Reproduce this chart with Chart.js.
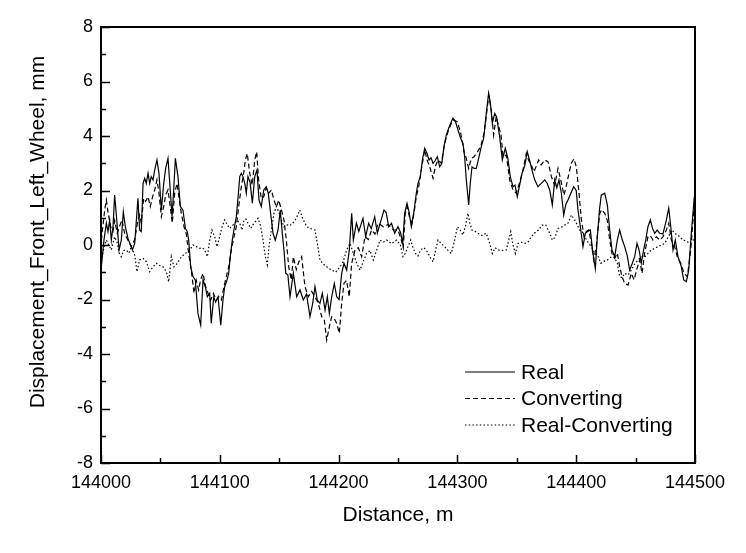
<!DOCTYPE html>
<html><head><meta charset="utf-8">
<script src="https://cdn.jsdelivr.net/npm/chart.js@4/dist/chart.umd.min.js"></script>
<style>html,body{margin:0;padding:0;background:#fff;}#wrap{width:746px;height:553px;}</style>
</head><body><div id="wrap"><canvas id="c" width="746" height="553"></canvas></div>
<script>
// ---- data (distance in m, displacement in mm) ----
const realDistance = [144000.3,144002.5,144004.5,144005.9,144007.3,144008.7,144010.1,144011.5,144013.5,144015.2,144017.1,144018.8,144020.5,144022.7,144026.4,144028.4,144029.8,144031.1,144032.5,144033.9,144035.4,144036.8,144038.1,144039.6,144041.0,144042.3,144043.8,144045.2,144047.1,144048.8,144050.8,144052.8,144054.4,144056.4,144058.3,144059.8,144061.2,144062.6,144064.8,144066.8,144069.0,144071.0,144072.6,144073.8,144075.5,144077.4,144079.4,144081.6,144083.9,144085.9,144087.8,144089.5,144091.5,144092.8,144094.9,144096.5,144098.5,144100.8,144102.7,144104.1,144106.1,144107.5,144108.8,144110.5,144111.9,144113.9,144115.3,144116.8,144118.1,144119.5,144121.0,144122.3,144123.7,144125.5,144127.4,144129.4,144131.3,144133.0,144134.9,144137.0,144139.1,144140.8,144142.8,144144.8,144146.7,144149.0,144150.9,144152.6,144154.0,144155.5,144157.3,144159.1,144161.9,144164.7,144167.5,144170.3,144173.0,144175.9,144178.2,144180.1,144182.1,144184.3,144186.3,144188.6,144190.5,144192.2,144194.2,144196.4,144198.4,144200.4,144202.6,144204.5,144206.8,144209.0,144211.0,144212.4,144215.0,144217.0,144220.5,144222.8,144225.3,144227.5,144230.4,144232.6,144235.0,144238.2,144240.0,144242.2,144244.5,144247.2,144250.0,144252.3,144254.0,144255.6,144257.6,144259.4,144261.2,144263.3,144265.4,144266.8,144268.8,144270.5,144272.5,144274.4,144276.1,144277.8,144279.5,144281.3,144283.1,144285.1,144286.9,144288.7,144290.7,144292.8,144294.9,144296.3,144298.4,144300.5,144302.8,144304.7,144306.1,144307.5,144309.5,144310.9,144312.3,144314.0,144315.9,144318.0,144320.1,144322.1,144324.3,144326.3,144327.8,144329.4,144331.4,144333.0,144335.6,144337.8,144340.3,144342.4,144344.5,144346.8,144348.5,144350.4,144352.4,144354.4,144356.6,144358.8,144360.8,144362.8,144365.0,144367.8,144370.6,144373.5,144375.6,144377.7,144379.9,144381.9,144383.7,144385.5,144387.5,144389.5,144391.3,144393.1,144395.5,144397.9,144400.0,144401.5,144403.5,144405.7,144407.7,144409.8,144411.9,144414.1,144416.1,144417.8,144419.6,144421.1,144424.0,144426.2,144428.2,144430.1,144432.4,144434.6,144436.6,144438.7,144440.8,144443.0,144445.0,144447.0,144449.2,144451.2,144453.0,144454.8,144456.7,144458.5,144460.4,144462.4,144464.3,144466.1,144468.2,144470.3,144473.0,144475.9,144477.9,144479.6,144481.5,144483.4,144485.7,144488.5,144490.5,144492.7,144494.7,144496.9,144499.2,144500.0];
const realValues = [-0.80,0.18,0.80,0.49,0.92,0.18,0.67,1.83,0.80,-0.18,0.18,1.22,0.67,0.24,-0.18,0.06,0.92,1.71,0.55,0.49,2.26,2.45,2.26,2.63,2.26,2.51,2.39,2.75,3.12,2.63,1.28,2.26,2.81,3.18,2.02,1.04,2.02,3.18,2.51,1.41,1.28,0.61,0.49,0.18,-0.80,-1.16,-1.28,-2.51,-2.94,-1.28,-1.53,-1.90,-1.77,-2.87,-1.90,-2.10,-1.90,-2.94,-2.02,-1.53,-1.28,-1.04,-0.43,0.18,0.55,1.04,1.71,2.51,2.63,2.51,2.26,1.90,2.51,2.30,1.53,2.51,2.75,1.65,1.41,2.02,2.14,1.90,1.16,0.43,0.18,0.55,1.28,0.43,-0.18,-1.04,-1.10,-1.90,-1.04,-1.90,-1.65,-2.02,-1.80,-2.63,-2.14,-1.53,-2.02,-2.14,-1.77,-2.39,-1.90,-2.51,-1.90,-1.41,-1.90,-2.00,-1.04,-0.67,-0.92,-0.18,1.16,0.18,0.80,0.50,0.98,0.31,0.80,0.60,1.04,0.43,0.80,1.28,1.20,0.67,0.80,0.43,0.67,0.43,0.06,1.16,1.53,1.20,0.67,1.20,1.90,2.26,2.51,3.12,3.55,3.36,3.12,3.20,3.00,3.10,3.24,2.87,3.00,3.61,4.04,4.30,4.52,4.65,4.52,4.22,3.91,3.73,3.24,2.39,1.47,2.30,2.87,2.81,2.81,3.20,3.61,3.91,4.83,5.57,5.20,4.47,4.83,4.70,3.97,3.12,3.55,3.20,2.51,2.14,2.20,1.77,2.20,2.63,2.90,3.42,3.10,2.75,2.40,2.14,2.26,2.39,2.26,2.02,1.47,2.39,2.10,2.39,1.90,1.10,1.50,1.65,1.90,2.14,2.00,1.28,0.67,-0.06,0.43,0.50,0.55,-0.31,-0.86,0.31,1.30,1.83,1.90,1.47,0.55,-0.18,-0.43,0.18,0.55,0.20,-0.06,-0.40,-0.92,-0.70,-0.43,0.06,-0.20,-0.67,-0.20,0.18,0.67,0.92,0.60,0.43,0.55,0.43,0.40,0.92,1.35,0.67,-0.18,0.18,-0.43,-0.80,-1.28,-1.35,-0.92,0.43,1.65,1.50];

const convDistance = [144000.3,144003.1,144004.5,144005.9,144008.1,144010.1,144011.5,144013.7,144015.7,144017.7,144020.0,144022.7,144025.5,144028.4,144030.6,144032.5,144033.9,144035.9,144037.6,144039.6,144041.5,144043.3,144045.2,144047.1,144048.8,144050.8,144052.8,144054.4,144056.4,144058.3,144060.0,144062.0,144064.0,144065.8,144067.6,144069.9,144071.8,144073.8,144076.0,144078.3,144080.2,144082.2,144083.8,144085.9,144087.9,144090.1,144092.3,144094.7,144097.1,144099.2,144101.3,144103.5,144105.5,144107.5,144109.7,144112.0,144113.9,144115.9,144118.1,144120.1,144121.5,144123.1,144125.2,144127.3,144129.4,144131.0,144132.7,144134.9,144137.0,144139.1,144141.2,144143.4,144145.6,144147.6,144149.6,144151.8,144154.0,144156.0,144158.0,144160.2,144161.9,144164.4,144166.7,144168.9,144171.7,144174.5,144177.3,144180.1,144182.9,144185.8,144188.0,144190.0,144192.2,144194.2,144196.3,144198.4,144200.6,144202.6,144204.5,144206.7,144209.0,144211.0,144213.8,144216.6,144219.4,144222.2,144225.0,144227.8,144230.6,144233.4,144237.6,144241.8,144246.1,144250.0,144252.8,144254.4,144256.1,144257.8,144259.8,144261.8,144263.6,144265.4,144267.4,144269.6,144272.5,144274.6,144276.7,144279.5,144281.6,144283.7,144286.5,144289.3,144292.1,144294.9,144297.1,144300.0,144302.8,144305.6,144307.5,144309.5,144311.7,144314.0,144316.8,144319.6,144322.4,144324.3,144326.3,144328.5,144330.5,144332.7,144335.6,144336.6,144338.4,144341.2,144344.0,144346.8,144349.6,144352.4,144355.2,144358.0,144360.0,144362.2,144364.5,144366.4,144368.4,144370.6,144373.5,144376.3,144379.1,144381.9,144384.7,144387.0,144389.7,144391.8,144393.9,144395.9,144398.1,144400.1,144402.1,144404.4,144406.6,144408.5,144410.5,144412.7,144414.7,144416.9,144418.4,144419.8,144421.4,144424.0,144426.2,144428.2,144430.1,144432.4,144434.6,144436.6,144438.6,144440.8,144443.6,144446.4,144448.7,144451.0,144453.4,144455.4,144457.6,144460.4,144462.4,144464.6,144467.5,144470.3,144473.0,144475.9,144477.9,144480.1,144482.5,144485.1,144488.0,144490.8,144493.6,144496.4,144499.2,144500.0];
const convValues = [0.18,1.28,1.65,1.20,0.67,0.50,0.90,0.43,0.70,0.92,0.40,0.18,-0.06,0.20,0.80,1.10,0.80,1.71,1.60,1.77,1.41,1.75,2.02,2.39,1.90,1.04,1.41,1.83,2.02,1.40,0.80,1.90,2.26,1.70,1.16,0.67,0.40,-0.31,-0.92,-1.77,-1.30,-1.65,-1.28,-1.04,-1.50,-1.77,-2.02,-1.77,-2.02,-1.90,-2.02,-1.53,-1.16,-0.80,-0.18,0.31,0.67,1.41,2.14,2.63,3.12,3.36,2.63,2.20,3.12,3.42,2.39,1.70,1.77,2.10,1.90,2.02,1.65,1.40,1.65,1.30,0.92,0.18,-0.80,-1.28,-0.43,-0.90,-0.60,-0.43,-1.53,-1.90,-1.70,-1.90,-2.14,-2.63,-2.75,-3.49,-3.00,-2.63,-2.70,-2.87,-3.24,-2.14,-1.41,-1.30,-1.90,-0.67,-0.18,-0.10,-0.43,0.31,0.20,0.55,0.40,0.80,0.67,0.75,0.55,0.55,0.18,-0.10,1.16,1.41,1.00,0.80,1.20,1.77,2.14,2.75,3.49,3.10,2.87,2.45,2.90,3.12,3.00,3.73,4.16,4.47,4.59,4.52,4.10,3.42,3.18,2.81,3.18,3.24,3.42,3.61,4.10,4.71,5.50,4.95,4.04,4.71,4.22,4.10,3.24,3.30,2.39,2.02,1.90,2.30,2.75,3.36,3.10,2.94,2.69,2.90,3.12,2.94,3.12,3.06,2.51,2.20,2.81,2.39,1.83,2.20,2.63,3.00,3.16,2.87,2.02,0.92,0.31,0.50,0.55,0.10,-0.55,-0.06,0.60,1.16,1.30,1.16,0.90,0.18,-0.31,-0.49,-0.30,-0.80,-1.16,-1.41,-1.47,-1.04,-1.28,-0.90,-0.55,-1.04,-0.31,0.31,0.35,0.18,0.30,0.18,0.30,0.55,0.80,0.18,0.00,-0.43,-0.67,-1.04,-1.16,-0.18,1.41,1.50];

const diffDistance = [144000.0,144002.5,144004.5,144006.5,144008.7,144011.5,144013.5,144015.5,144017.1,144019.2,144021.3,144023.4,144025.5,144028.4,144030.3,144032.5,144035.4,144038.0,144041.0,144043.8,144046.5,144049.3,144052.2,144055.0,144057.0,144059.2,144061.4,144064.2,144067.6,144071.0,144074.7,144077.4,144080.2,144083.1,144085.3,144087.3,144089.5,144091.5,144093.4,144095.7,144097.6,144099.9,144101.9,144104.1,144106.2,144108.3,144110.4,144112.5,144114.7,144116.8,144118.7,144120.4,144122.0,144123.7,144126.0,144128.0,144129.9,144132.2,144134.3,144136.4,144138.3,144140.0,144141.4,144143.4,144145.6,144147.6,144149.7,144151.8,144154.0,144156.3,144158.5,144161.6,144164.4,144167.3,144170.0,144173.2,144176.6,144180.1,144182.1,144184.3,144187.0,144190.0,144194.2,144197.5,144201.2,144204.0,144206.8,144209.6,144212.4,144215.2,144218.0,144220.8,144223.6,144226.4,144229.2,144232.0,144234.8,144237.6,144240.5,144244.7,144248.9,144252.0,144254.2,144256.3,144258.4,144260.7,144262.6,144264.6,144266.8,144269.1,144271.9,144274.7,144277.1,144279.5,144281.6,144283.7,144286.5,144289.3,144292.1,144294.9,144297.3,144300.0,144302.3,144304.7,144306.8,144308.9,144310.5,144312.3,144314.8,144317.3,144320.8,144324.3,144327.2,144329.4,144331.8,144334.2,144337.5,144341.2,144343.2,144344.9,144346.8,144348.8,144351.0,144353.8,144356.6,144359.4,144362.2,144365.3,144368.4,144371.2,144374.4,144377.7,144379.9,144382.3,144384.7,144387.5,144390.3,144393.1,144395.9,144398.7,144400.8,144402.9,144405.0,144407.1,144409.9,144412.7,144415.6,144418.4,144420.6,144423.4,144426.2,144429.6,144432.1,144434.6,144436.6,144438.7,144440.8,144443.6,144446.4,144449.2,144452.1,144454.8,144457.6,144460.4,144463.3,144466.1,144468.9,144471.7,144474.5,144477.5,144480.6,144483.8,144487.1,144489.9,144492.7,144495.5,144498.3,144500.0];
const diffValues = [-0.60,-0.10,0.18,0.00,-0.18,0.30,0.10,-0.30,-0.43,-0.20,-0.18,-0.30,-0.06,-0.37,-0.98,-0.55,-0.49,-0.60,-0.98,-0.80,-0.67,-0.75,-0.80,-0.98,-1.35,-0.43,-0.80,-0.67,-0.43,-0.31,-0.18,0.00,-0.06,-0.12,-0.10,-0.18,-0.43,0.18,0.55,0.31,-0.06,0.31,0.67,0.92,0.75,0.61,0.70,0.80,0.90,0.80,0.55,0.92,0.95,0.80,0.61,0.75,0.86,0.98,0.70,0.18,-0.43,-0.73,-0.06,0.55,1.16,1.41,1.20,0.92,0.67,0.75,0.70,0.80,0.98,1.28,0.95,0.67,0.60,0.55,0.06,-0.55,-0.70,-0.80,-0.92,-1.00,-0.80,-0.60,-0.18,0.06,-0.30,-0.67,-0.92,-0.60,-0.31,-0.20,-0.55,-0.20,0.18,0.10,0.18,0.05,0.18,0.00,-0.43,-0.30,-0.06,0.18,-0.10,-0.31,-0.40,-0.18,-0.10,-0.25,-0.45,-0.61,-0.20,0.18,0.05,-0.06,-0.20,-0.31,0.10,0.67,0.55,0.37,0.70,1.16,0.80,0.55,0.50,0.43,0.35,0.43,0.06,-0.31,-0.10,-0.18,-0.20,-0.18,0.18,0.49,0.00,-0.31,0.06,0.10,0.06,0.10,0.31,0.45,0.55,0.73,0.73,0.43,0.18,0.30,0.61,0.65,0.73,0.80,1.10,0.92,0.75,0.55,0.50,0.31,0.10,-0.06,-0.31,-0.40,-0.67,-0.60,-0.55,-0.43,-0.45,-0.67,-1.16,-1.20,-1.04,-1.10,-0.92,-0.70,-0.55,-0.43,-0.45,-0.31,-0.18,-0.12,-0.06,0.00,0.06,0.30,0.55,0.40,0.31,0.18,0.15,0.06,0.18,0.20];

const seriesNames = ['Real', 'Converting', 'Real-Converting'];
const xAxisTitle = 'Distance, m';
const yAxisTitle = 'Displacement_Front_Left_Wheel, mm';
const xRange = [144000, 144500];
const yRange = [-8, 8];
const xMajorStep = 100, xMinorStep = 50;
const yMajorStep = 2, yMinorStep = 1;

function pts(xs, ys){ return xs.map((x,i)=>({x:x, y:ys[i]})); }

const FONT = "'Liberation Sans', Arial, sans-serif";

const decorPlugin = {
  id: 'decor',
  afterDraw(chart){
    const {ctx, chartArea:a, scales:{x, y}} = chart;
    ctx.save();
    ctx.strokeStyle = '#000';
    // inward ticks
    ctx.lineWidth = 1.5;
    ctx.beginPath();
    for (let v = xRange[0]; v <= xRange[1]; v += xMinorStep){
      const px = Math.round(x.getPixelForValue(v)) + 0.5;
      const len = ((v - xRange[0]) % xMajorStep === 0) ? 8 : 5;
      ctx.moveTo(px, a.bottom); ctx.lineTo(px, a.bottom - len);
    }
    for (let v = yRange[0]; v <= yRange[1]; v += yMinorStep){
      const py = Math.round(y.getPixelForValue(v)) + 0.5;
      const len = ((v - yRange[0]) % yMajorStep === 0) ? 9 : 5;
      ctx.moveTo(a.left, py); ctx.lineTo(a.left + len, py);
    }
    ctx.stroke();
    // frame
    ctx.lineWidth = 2;
    ctx.strokeRect(a.left, a.top, a.right - a.left, a.bottom - a.top);
    // y axis title
    ctx.fillStyle = '#000';
    ctx.font = '21px ' + FONT;
    ctx.textAlign = 'center';
    ctx.textBaseline = 'middle';
    ctx.save();
    ctx.translate(38, (a.top + a.bottom)/2 - 13);
    ctx.rotate(-Math.PI/2);
    ctx.fillText(yAxisTitle, 0, 0);
    ctx.restore();
    // legend
    const ds = chart.data.datasets;
    ctx.textAlign = 'left';
    ctx.font = '21px ' + FONT;
    ds.forEach((d, i) => {
      const ly = a.top + 345 + i * 26.5;
      ctx.beginPath();
      ctx.lineWidth = d.borderWidth;
      ctx.setLineDash(d.borderDash || []);
      ctx.moveTo(a.left + 364, ly); ctx.lineTo(a.left + 414, ly);
      ctx.stroke();
      ctx.setLineDash([]);
      ctx.fillText(d.label, a.left + 420, ly + 1);
    });
    ctx.restore();
  }
};

new Chart(document.getElementById('c'), {
  type: 'line',
  data: {
    datasets: [
      {label: seriesNames[0], data: pts(realDistance, realValues), borderColor:'#000', borderWidth:1.2, pointRadius:0, tension:0, fill:false},
      {label: seriesNames[1], data: pts(convDistance, convValues), borderColor:'#000', borderWidth:1.2, borderDash:[5,3], pointRadius:0, tension:0, fill:false},
      {label: seriesNames[2], data: pts(diffDistance, diffValues), borderColor:'#000', borderWidth:1.2, borderDash:[1.5,2.2], pointRadius:0, tension:0, fill:false}
    ]
  },
  options: {
    responsive: false,
    animation: false,
    devicePixelRatio: 1,
    layout: {padding: {left:0, top:27, right:51, bottom:0}},
    plugins: {legend:{display:false}, tooltip:{enabled:false}},
    scales: {
      x: {
        type:'linear', min:xRange[0], max:xRange[1],
        grid:{display:true, drawOnChartArea:false, drawTicks:false, color:'rgba(0,0,0,0)'},
        border:{display:false},
        ticks:{stepSize:xMajorStep, padding:9, color:'#000', font:{family:FONT, size:18}, maxRotation:0, callback:(v)=>String(v)},
        title:{display:true, text:xAxisTitle, color:'#000', font:{family:FONT, size:21}, padding:{top:0, bottom:25}},
        afterFit(s){ s.height = 90; }
      },
      y: {
        type:'linear', min:yRange[0], max:yRange[1],
        grid:{display:true, drawOnChartArea:false, drawTicks:false, color:'rgba(0,0,0,0)'},
        border:{display:false},
        ticks:{stepSize:yMajorStep, padding:8, color:'#000', font:{family:FONT, size:18}},
        title:{display:false, text:yAxisTitle},
        afterFit(s){ s.width = 101; }
      }
    }
  },
  plugins:[decorPlugin]
});
</script>
</body></html>
